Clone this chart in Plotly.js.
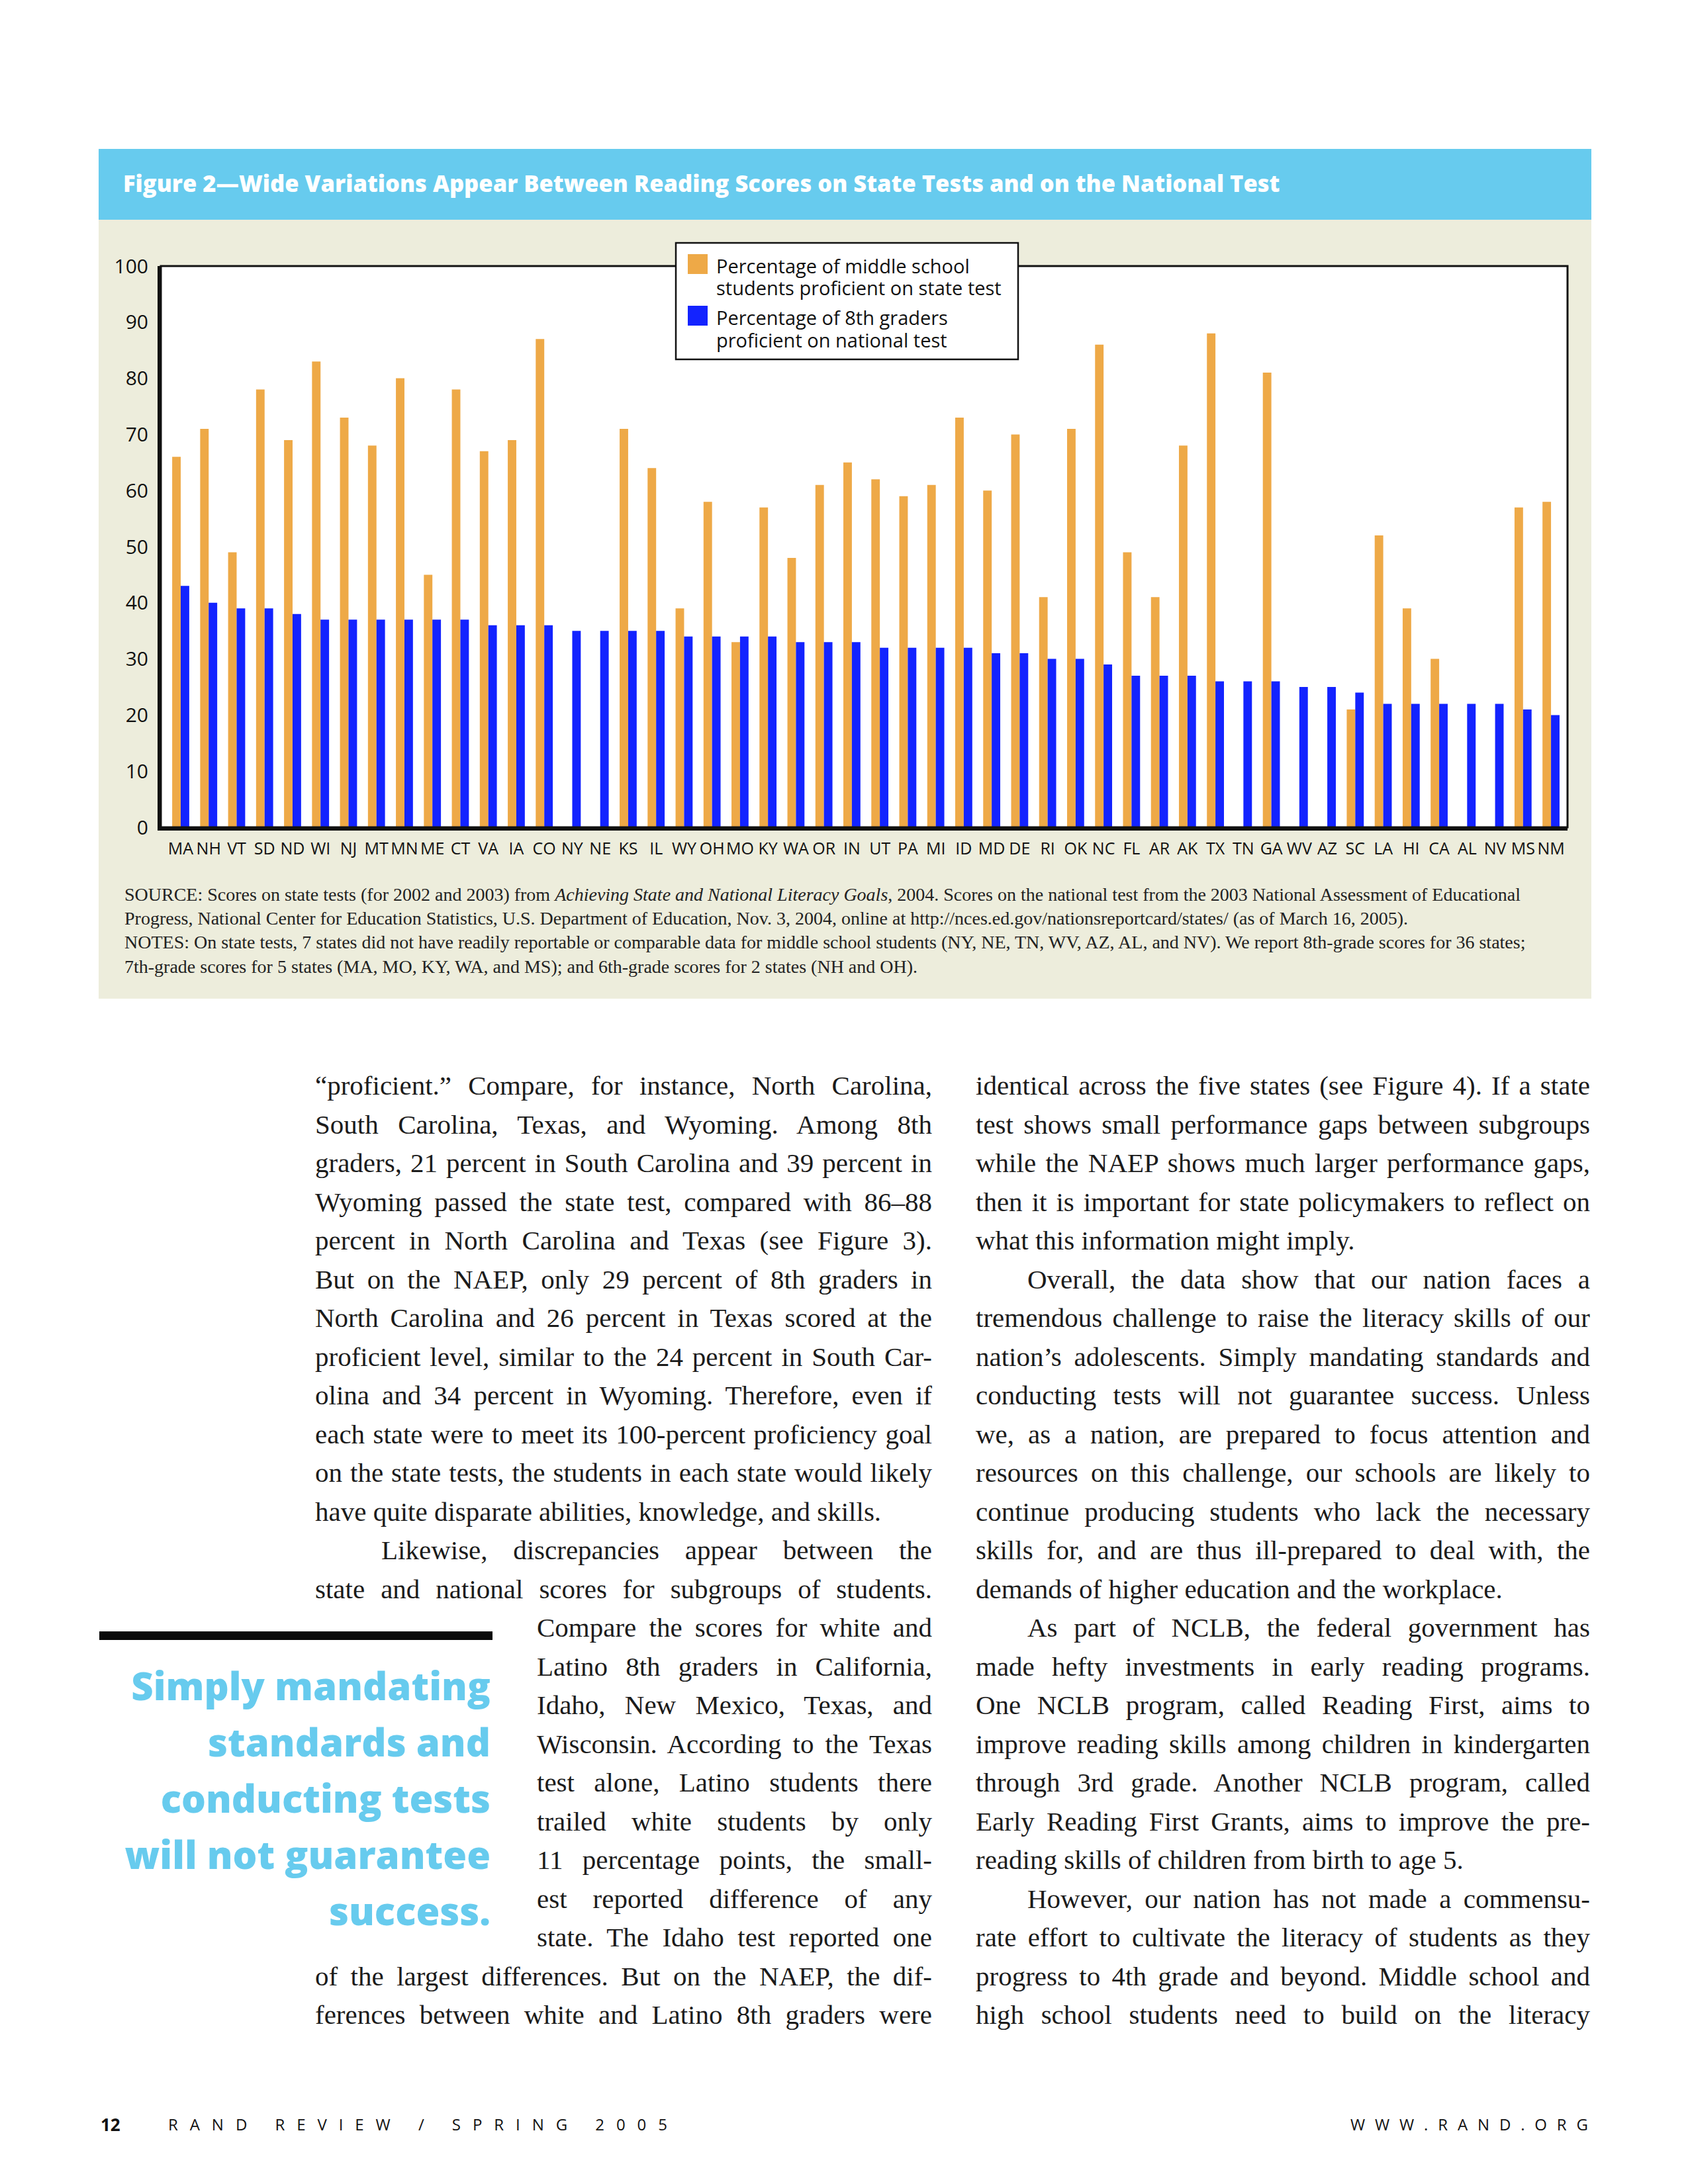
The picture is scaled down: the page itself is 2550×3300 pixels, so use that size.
<!DOCTYPE html>
<html>
<head>
<meta charset="utf-8">
<script src="https://cdn.plot.ly/plotly-3.0.1.min.js"></script>
<style>
  html, body { margin:0; padding:0; background:#ffffff; }
  body { width:2550px; height:3300px; position:relative; overflow:hidden; }
  #chart { position:absolute; left:149px; top:225px; width:2255px; height:1284px; }
  .ln { position:absolute; height:58.5px; line-height:58.5px; font-family:"Liberation Serif", serif; font-size:41px; color:#1b1b1b; white-space:nowrap; overflow:visible; }
  .ln span { display:inline-block; white-space:nowrap; }
  .pq { position:absolute; right:calc(2550px - 741px); height:85px; line-height:85px; font-family:"Open Sans", sans-serif; font-weight:800; font-size:58px; color:#67CBEE; white-space:nowrap; text-align:right; }
  .rule { position:absolute; left:150px; top:2465px; width:594px; height:13px; background:#0a0a0a; }
  .foot { position:absolute; top:3195px; height:30px; line-height:30px; font-family:"Open Sans", sans-serif; font-size:24px; font-weight:400; color:#111; white-space:nowrap; }
  .foot span { display:inline-block; white-space:nowrap; }
</style>
</head>
<body>
<div id="chart"></div>
<div id="text"></div>
<script>
// ---------------- DATA ----------------
const states = ["MA","NH","VT","SD","ND","WI","NJ","MT","MN","ME","CT","VA","IA","CO","NY","NE","KS","IL","WY","OH","MO","KY","WA","OR","IN","UT","PA","MI","ID","MD","DE","RI","OK","NC","FL","AR","AK","TX","TN","GA","WV","AZ","SC","LA","HI","CA","AL","NV","MS","NM"];
const stateTest = [66,71,49,78,69,83,73,68,80,45,78,67,69,87,null,null,71,64,39,58,33,57,48,61,65,62,59,61,73,60,70,41,71,86,49,41,68,88,null,81,null,null,21,52,39,30,null,null,57,58];
const nationalTest = [43,40,39,39,38,37,37,37,37,37,37,36,36,36,35,35,35,35,34,34,34,34,33,33,33,32,32,32,32,31,31,30,30,29,27,27,27,26,26,26,25,25,24,22,22,22,22,22,21,20];
const yTicks = [0,10,20,30,40,50,60,70,80,90,100];
const seriesNames = ["Percentage of middle school students proficient on state test","Percentage of 8th graders proficient on national test"];
const legendLines = [["Percentage of middle school","students proficient on state test"],["Percentage of 8th graders","proficient on national test"]];
const titleText = "Figure 2\u2014Wide Variations Appear Between Reading Scores on State Tests and on the National Test";
const noteLines = [
 "SOURCE: Scores on state tests (for 2002 and 2003) from <i>Achieving State and National Literacy Goals</i>, 2004. Scores on the national test from the 2003 National Assessment of Educational",
 "Progress, National Center for Education Statistics, U.S. Department of Education, Nov. 3, 2004, online at http://nces.ed.gov/nationsreportcard/states/ (as of March 16, 2005).",
 "NOTES: On state tests, 7 states did not have readily reportable or comparable data for middle school students (NY, NE, TN, WV, AZ, AL, and NV). We report 8th-grade scores for 36 states;",
 "7th-grade scores for 5 states (MA, MO, KY, WA, and MS); and 6th-grade scores for 2 states (NH and OH)."
];

// ---------------- CHART ----------------
const ORANGE = "#EEA947", BLUE = "#1323FF", BEIGE = "#EDEDDC", SKY = "#67CBEE";
const traces = [
  {type:"bar", name:seriesNames[0], x:states, y:stateTest, marker:{color:ORANGE, line:{width:0}}, showlegend:false, hoverinfo:"x+y"},
  {type:"bar", name:seriesNames[1], x:states, y:nationalTest, marker:{color:BLUE, line:{width:0}}, showlegend:false, hoverinfo:"x+y"}
];
// plot area: x 243..2368, y 402..1250 (page px)
const PX = v => (v-243)/2125, PY = v => (1250-v)/848;
const shapes = [
  {type:"rect", xref:"paper", yref:"paper", x0:PX(149), x1:PX(2404), y0:PY(332), y1:PY(225), fillcolor:SKY, line:{width:0}, layer:"below"},
  {type:"rect", xref:"paper", yref:"paper", x0:0, x1:1, y0:0, y1:1, fillcolor:"rgba(0,0,0,0)", line:{color:"#111", width:3}, layer:"above"},
  {type:"rect", xref:"paper", yref:"paper", x0:PX(1021), x1:PX(1538), y0:PY(543), y1:PY(367), fillcolor:"#ffffff", line:{color:"#111", width:2.5}, layer:"above"},
  {type:"rect", xref:"paper", yref:"paper", x0:PX(1039), x1:PX(1069), y0:PY(414), y1:PY(384), fillcolor:ORANGE, line:{width:0}, layer:"above"},
  {type:"rect", xref:"paper", yref:"paper", x0:PX(1039), x1:PX(1069), y0:PY(492), y1:PY(462), fillcolor:BLUE, line:{width:0}, layer:"above"}
];
const annotations = [];
const legY = [401, 434, 479, 513];
[legendLines[0][0], legendLines[0][1], legendLines[1][0], legendLines[1][1]].forEach((t,i)=>{
  annotations.push({xref:"paper", yref:"paper", x:PX(1080), y:PY(legY[i]), xanchor:"left", yanchor:"middle", text:t, showarrow:false,
    font:{family:"Open Sans", size:29, color:"#111"}});
});
const noteY = [1351, 1387, 1423, 1460];
noteLines.forEach((t,i)=>{
  annotations.push({xref:"paper", yref:"paper", x:PX(186), y:PY(noteY[i]), xanchor:"left", yanchor:"middle", text:t, showarrow:false,
    font:{family:"Liberation Serif", size:28, color:"#222"}});
});
const layout = {
  width:2255, height:1284,
  margin:{l:94, r:36, t:177, b:259, pad:0},
  paper_bgcolor:BEIGE, plot_bgcolor:"#ffffff",
  title:{text:titleText, xref:"container", yref:"container", x:(186-149)/2255, xanchor:"left", y:1-(278-225)/1284, yanchor:"middle",
    font:{family:"Open Sans", size:34.5, color:"#ffffff", weight:800}},
  barmode:"group", bargap:0.39, bargroupgap:0,
  xaxis:{type:"category", range:[-0.71, 49.59], showgrid:false, zeroline:false, showline:true, linecolor:"#111", linewidth:5, mirror:false,
    ticks:"", tickfont:{family:"Open Sans", size:25, color:"#111"}, ticklabelstandoff:6, fixedrange:true},
  yaxis:{range:[0,100], tickvals:yTicks, ticktext:yTicks.map(String), showgrid:false, zeroline:false, showline:true, linecolor:"#111", linewidth:5, mirror:false,
    ticks:"", tickfont:{family:"Open Sans", size:30, color:"#111"}, ticklabelstandoff:8, fixedrange:true},
  shapes:shapes, annotations:annotations
};
Plotly.newPlot("chart", traces, layout, {displayModeBar:false, staticPlot:true});

// ---------------- BODY TEXT ----------------
const leftCol = [
 ["\u201Cproficient.\u201D Compare, for instance, North Carolina,",""],
 ["South Carolina, Texas, and Wyoming. Among 8th",""],
 ["graders, 21 percent in South Carolina and 39 percent in",""],
 ["Wyoming passed the state test, compared with 86\u201388",""],
 ["percent in North Carolina and Texas (see Figure 3).",""],
 ["But on the NAEP, only 29 percent of 8th graders in",""],
 ["North Carolina and 26 percent in Texas scored at the",""],
 ["proficient level, similar to the 24 percent in South Car-",""],
 ["olina and 34 percent in Wyoming. Therefore, even if",""],
 ["each state were to meet its 100-percent proficiency goal",""],
 ["on the state tests, the students in each state would likely",""],
 ["have quite disparate abilities, knowledge, and skills.","last"],
 ["Likewise, discrepancies appear between the","ind"],
 ["state and national scores for subgroups of students.",""],
 ["Compare the scores for white and","nar"],
 ["Latino 8th graders in California,","nar"],
 ["Idaho, New Mexico, Texas, and","nar"],
 ["Wisconsin. According to the Texas","nar"],
 ["test alone, Latino students there","nar"],
 ["trailed white students by only","nar"],
 ["11 percentage points, the small-","nar"],
 ["est reported difference of any","nar"],
 ["state. The Idaho test reported one","nar"],
 ["of the largest differences. But on the NAEP, the dif-",""],
 ["ferences between white and Latino 8th graders were",""]
];
const rightCol = [
 ["identical across the five states (see Figure 4). If a state",""],
 ["test shows small performance gaps between subgroups",""],
 ["while the NAEP shows much larger performance gaps,",""],
 ["then it is important for state policymakers to reflect on",""],
 ["what this information might imply.","last"],
 ["Overall, the data show that our nation faces a","ind"],
 ["tremendous challenge to raise the literacy skills of our",""],
 ["nation\u2019s adolescents. Simply mandating standards and",""],
 ["conducting tests will not guarantee success. Unless",""],
 ["we, as a nation, are prepared to focus attention and",""],
 ["resources on this challenge, our schools are likely to",""],
 ["continue producing students who lack the necessary",""],
 ["skills for, and are thus ill-prepared to deal with, the",""],
 ["demands of higher education and the workplace.","last"],
 ["As part of NCLB, the federal government has","ind"],
 ["made hefty investments in early reading programs.",""],
 ["One NCLB program, called Reading First, aims to",""],
 ["improve reading skills among children in kindergarten",""],
 ["through 3rd grade. Another NCLB program, called",""],
 ["Early Reading First Grants, aims to improve the pre-",""],
 ["reading skills of children from birth to age 5.","last"],
 ["However, our nation has not made a commensu-","ind"],
 ["rate effort to cultivate the literacy of students as they",""],
 ["progress to 4th grade and beyond. Middle school and",""],
 ["high school students need to build on the literacy",""]
];
const pullQuote = ["Simply mandating","standards and","conducting tests","will not guarantee","success."];

const host = document.getElementById("text");
const LINE_TOP0 = 1611, LH = 58.5;
function addCol(lines, left, right, IND){
  lines.forEach((l,i)=>{
    const d = document.createElement("div");
    d.className = "ln";
    let L = left;
    if (l[1]==="nar") L = 811;
    let indent = l[1]==="ind" ? IND : 0;
    d.style.left = (L+indent)+"px";
    d.style.top = (LINE_TOP0 + i*LH)+"px";
    d.style.width = (right-L-indent)+"px";
    d.dataset.w = right-L-indent;
    d.dataset.last = l[1]==="last" ? "1" : "0";
    const s = document.createElement("span");
    s.textContent = l[0];
    d.appendChild(s);
    host.appendChild(d);
  });
}
addCol(leftCol, 476, 1408, 100);
addCol(rightCol, 1474, 2402, 78);

const rule = document.createElement("div"); rule.className="rule"; host.appendChild(rule);
pullQuote.forEach((t,i)=>{
  const d=document.createElement("div"); d.className="pq"; d.style.top=(2504+i*85)+"px"; d.textContent=t; host.appendChild(d);
});
function addFoot(text, left, target, bold){
  const d=document.createElement("div"); d.className="foot"; d.style.left=left+"px";
  const s=document.createElement("span"); s.textContent=text;
  if(bold){ s.style.fontWeight="700"; s.style.fontSize="26px"; }
  d.appendChild(s); host.appendChild(d);
  if(target) d.dataset.target=target;
}
addFoot("12", 152, 0, true);
addFoot("RAND REVIEW / SPRING 2005", 254, 754, false);
addFoot("WWW.RAND.ORG", 2040, 359, false);

function fit(){
  document.querySelectorAll(".ln").forEach(d=>{
    const s=d.firstChild; s.style.letterSpacing="0px"; s.style.wordSpacing="0px";
    const W=+d.dataset.w, w=s.getBoundingClientRect().width;
    const txt=s.textContent;
    if (w>W){ s.style.letterSpacing=(-(w-W)/(txt.length-1))+"px"; }
    else if (d.dataset.last!=="1"){
      const n=(txt.match(/ /g)||[]).length; if(n>0) s.style.wordSpacing=((W-w)/n)+"px";
    }
  });
  document.querySelectorAll(".foot").forEach(d=>{
    if(!d.dataset.target) return;
    const s=d.firstChild; s.style.letterSpacing="0px"; s.style.wordSpacing="0px";
    const w=s.getBoundingClientRect().width; const n=s.textContent.length;
    s.style.letterSpacing=((+d.dataset.target - w)/(n-1))+"px";
  });
}
fit();
if (document.fonts && document.fonts.ready) document.fonts.ready.then(fit);
</script>
</body>
</html>
